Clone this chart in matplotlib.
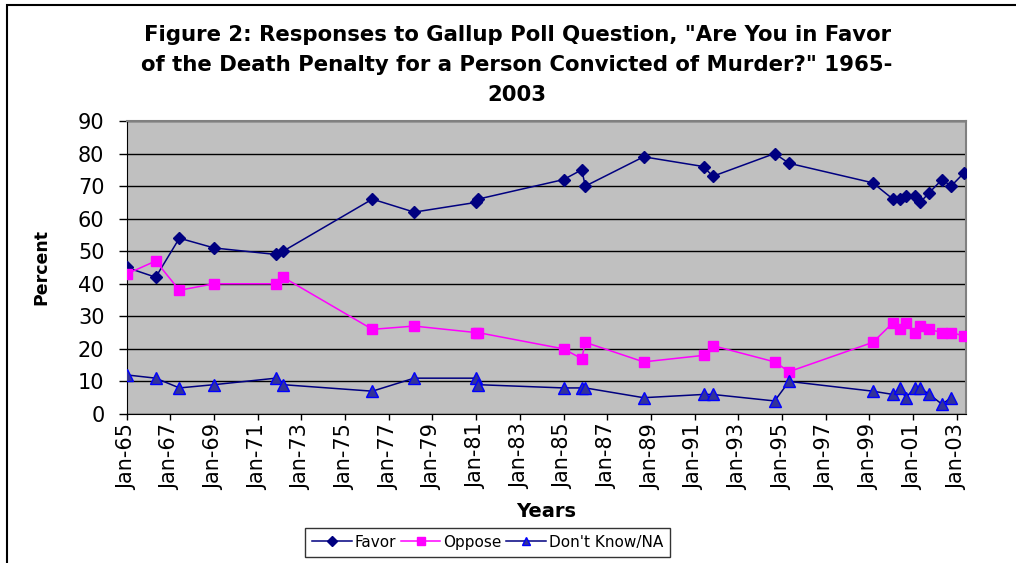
import numpy as np
import pandas as pd
import matplotlib
matplotlib.use('Agg')
import matplotlib.pyplot as plt
import matplotlib.dates as mdates

plt.rcParams['font.family'] = ['DejaVu Sans']

# poll dates (year-month) and responses in percent
dates = ['1965-01', '1966-05', '1967-06', '1969-01', '1971-11', '1972-03',
         '1976-04', '1978-03', '1981-01', '1981-02', '1985-01', '1985-11',
         '1986-01', '1988-09', '1991-06', '1991-11', '1994-09', '1995-05',
         '1999-03', '2000-02', '2000-06', '2000-09', '2001-02', '2001-05',
         '2001-10', '2002-05', '2002-10', '2003-05']
favor = [45, 42, 54, 51, 49, 50, 66, 62, 65, 66, 72, 75, 70, 79, 76, 73, 80, 77,
         71, 66, 66, 67, 67, 65, 68, 72, 70, 74]
oppose = [43, 47, 38, 40, 40, 42, 26, 27, 25, 25, 20, 17, 22, 16, 18, 21, 16, 13,
          22, 28, 26, 28, 25, 27, 26, 25, 25, 24]
dont_know = [12, 11, 8, 9, 11, 9, 7, 11, 11, 9, 8, 8, 8, 5, 6, 6, 4, 10,
             7, 6, 8, 5, 8, 8, 6, 3, 5, np.nan]
tick_years = list(range(1965, 2004, 2))

x = pd.to_datetime(dates)

fig = plt.figure(figsize=(10.16, 5.63), dpi=100)
ax = fig.add_axes([0.1247, 0.2647, 0.826, 0.5204])
ax.set_facecolor('#C0C0C0')

ax.plot(x, favor, color='#000080', lw=1.1, marker='D', ms=6.5,
        mfc='#000080', mec='#000080', label='Favor', zorder=3)
ax.plot(x, oppose, color='#FF00FF', lw=1.1, marker='s', ms=7,
        mfc='#FF00FF', mec='#FF00FF', label='Oppose', zorder=3)
ax.plot(x, dont_know, color='#000080', lw=1.1, marker='^', ms=8,
        mfc='#333399', mec='#0000FF', label="Don't Know/NA", zorder=3)

ax.set_ylim(0, 90)
ax.set_yticks(range(0, 91, 10))
ax.set_xlim(pd.Timestamp('1965-01-01'), pd.Timestamp('2003-06-05'))
ax.set_xticks([pd.Timestamp(f'{y}-01-01') for y in tick_years])
ax.xaxis.set_major_formatter(mdates.DateFormatter('%b-%y'))
plt.setp(ax.get_xticklabels(), rotation=90, ha='center', va='top')

ax.yaxis.grid(True, color='black', lw=1)
ax.set_axisbelow(True)
ax.tick_params(axis='y', direction='out', length=6, width=1, labelsize=15, pad=10)
ax.tick_params(axis='x', direction='out', length=4, width=1, labelsize=15, pad=3)

for s in ['top', 'right']:
    ax.spines[s].set_color('#808080')
    ax.spines[s].set_linewidth(1.5)
for s in ['left', 'bottom']:
    ax.spines[s].set_color('black')

ax.set_ylabel('Percent', fontsize=12.5, fontweight='bold', labelpad=20)
ax.set_xlabel('Years', fontsize=14, fontweight='bold', labelpad=9)

fig.text(0.509, 0.955,
         'Figure 2: Responses to Gallup Poll Question, "Are You in Favor\n'
         'of the Death Penalty for a Person Convicted of Murder?" 1965-\n2003',
         ha='center', va='top', fontsize=15.3, fontweight='bold', linespacing=1.63)

leg = fig.legend(loc='center', bbox_to_anchor=(0.480, 0.037), ncol=3,
                 fontsize=11, frameon=True, fancybox=False, edgecolor='black',
                 handlelength=2.6, handletextpad=0.2, columnspacing=0.3,
                 borderpad=0.45, markerscale=0.8)
leg.get_frame().set_linewidth(1)

# outer border of the chart area
fig.patches.append(plt.Rectangle((0.007, -0.01), 1.1, 1.0 - 0.009 + 0.01,
                                 transform=fig.transFigure, fill=False,
                                 edgecolor='black', lw=1.5))

fig.savefig('out.png', dpi=100)
